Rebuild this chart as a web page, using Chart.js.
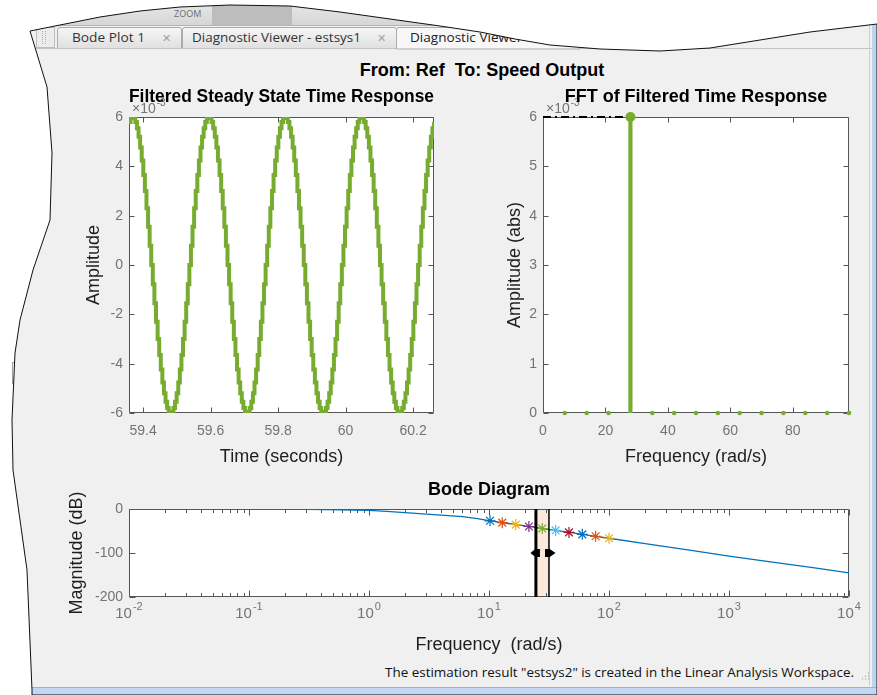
<!DOCTYPE html>
<html>
<head>
<meta charset="utf-8">
<script src="https://cdn.jsdelivr.net/npm/chart.js@4/dist/chart.umd.min.js"></script>
<style>
html,body{margin:0;padding:0;width:877px;height:695px;overflow:hidden;background:#fff;}
#bg{position:absolute;left:0;top:0;}
canvas.cv{position:absolute;}
#suptitle{position:absolute;left:282px;width:400px;top:60px;line-height:22px;text-align:center;white-space:pre;
  font:bold 18px "Liberation Sans",Arial,Helvetica,sans-serif;color:#000;}
</style>
</head>
<body>
<svg id="bg" width="877" height="695" xmlns="http://www.w3.org/2000/svg"></svg>
<div id="suptitle">From: Ref  To: Speed Output</div>
<canvas id="c1" class="cv" width="410" height="400" style="left:40px;top:80px"></canvas>
<canvas id="c2" class="cv" width="405" height="400" style="left:460px;top:80px"></canvas>
<canvas id="c3" class="cv" width="825" height="193" style="left:40px;top:472px"></canvas>
<script>
// ---------------- DATA ----------------
// Filtered steady state time response (amplitude in units of 1e-3)
const timeSec = [
59.3580,59.3627,59.3674,59.3721,59.3768,59.3815,59.3863,59.3910,59.3957,59.4004,59.4051,59.4098,
59.4145,59.4192,59.4239,59.4286,59.4333,59.4380,59.4428,59.4475,59.4522,59.4569,59.4616,59.4663,
59.4710,59.4757,59.4804,59.4851,59.4898,59.4945,59.4993,59.5040,59.5087,59.5134,59.5181,59.5228,
59.5275,59.5322,59.5369,59.5416,59.5463,59.5510,59.5558,59.5605,59.5652,59.5699,59.5746,59.5793,
59.5840,59.5887,59.5934,59.5981,59.6028,59.6075,59.6123,59.6170,59.6217,59.6264,59.6311,59.6358,
59.6405,59.6452,59.6499,59.6546,59.6593,59.6640,59.6688,59.6735,59.6782,59.6829,59.6876,59.6923,
59.6970,59.7017,59.7064,59.7111,59.7158,59.7205,59.7253,59.7300,59.7347,59.7394,59.7441,59.7488,
59.7535,59.7582,59.7629,59.7676,59.7723,59.7770,59.7818,59.7865,59.7912,59.7959,59.8006,59.8053,
59.8100,59.8147,59.8194,59.8241,59.8288,59.8335,59.8383,59.8430,59.8477,59.8524,59.8571,59.8618,
59.8665,59.8712,59.8759,59.8806,59.8853,59.8900,59.8948,59.8995,59.9042,59.9089,59.9136,59.9183,
59.9230,59.9277,59.9324,59.9371,59.9418,59.9465,59.9513,59.9560,59.9607,59.9654,59.9701,59.9748,
59.9795,59.9842,59.9889,59.9936,59.9983,60.0030,60.0078,60.0125,60.0172,60.0219,60.0266,60.0313,
60.0360,60.0407,60.0454,60.0501,60.0548,60.0595,60.0643,60.0690,60.0737,60.0784,60.0831,60.0878,
60.0925,60.0972,60.1019,60.1066,60.1113,60.1160,60.1208,60.1255,60.1302,60.1349,60.1396,60.1443,
60.1490,60.1537,60.1584,60.1631,60.1678,60.1725,60.1773,60.1820,60.1867,60.1914,60.1961,60.2008,
60.2055,60.2102,60.2149,60.2196,60.2243,60.2290,60.2338,60.2385,60.2432,60.2479,60.2526,60.2573,
60.2620];
const timeAmp = [
5.80,5.95,6.00,5.95,5.80,5.54,5.20,4.76,4.24,3.65,3.00,2.30,1.55,0.78,0.00,-0.78,-1.55,-2.30,-3.00,-3.65,-4.24,-4.76,-5.20,-5.54,
-5.80,-5.95,-6.00,-5.95,-5.80,-5.54,-5.20,-4.76,-4.24,-3.65,-3.00,-2.30,-1.55,-0.78,0.00,0.78,1.55,2.30,3.00,3.65,4.24,4.76,5.20,5.54,
5.80,5.95,6.00,5.95,5.80,5.54,5.20,4.76,4.24,3.65,3.00,2.30,1.55,0.78,0.00,-0.78,-1.55,-2.30,-3.00,-3.65,-4.24,-4.76,-5.20,-5.54,
-5.80,-5.95,-6.00,-5.95,-5.80,-5.54,-5.20,-4.76,-4.24,-3.65,-3.00,-2.30,-1.55,-0.78,0.00,0.78,1.55,2.30,3.00,3.65,4.24,4.76,5.20,5.54,
5.80,5.95,6.00,5.95,5.80,5.54,5.20,4.76,4.24,3.65,3.00,2.30,1.55,0.78,0.00,-0.78,-1.55,-2.30,-3.00,-3.65,-4.24,-4.76,-5.20,-5.54,
-5.80,-5.95,-6.00,-5.95,-5.80,-5.54,-5.20,-4.76,-4.24,-3.65,-3.00,-2.30,-1.55,-0.78,0.00,0.78,1.55,2.30,3.00,3.65,4.24,4.76,5.20,5.54,
5.80,5.95,6.00,5.95,5.80,5.54,5.20,4.76,4.24,3.65,3.00,2.30,1.55,0.78,0.00,-0.78,-1.55,-2.30,-3.00,-3.65,-4.24,-4.76,-5.20,-5.54,
-5.80,-5.95,-6.00,-5.95,-5.80,-5.54,-5.20,-4.76,-4.24,-3.65,-3.00,-2.30,-1.55,-0.78,0.00,0.78,1.55,2.30,3.00,3.65,4.24,4.76,5.20,5.54,
5.80];
const timeXTicks = [59.4, 59.6, 59.8, 60, 60.2];
const timeXTickLabels = ['59.4', '59.6', '59.8', '60', '60.2'];
const ampTicks = [-6, -4, -2, 0, 2, 4, 6];
const ampTickLabels = ['-6', '-4', '-2', '0', '2', '4', '6'];

// FFT of filtered time response (units of 1e-3)
const fftFreq = [7, 14, 21, 28, 35, 42, 49, 56, 63, 70, 77, 84, 91, 98];
const fftAmp  = [0, 0, 0, 6, 0, 0, 0, 0, 0, 0, 0, 0, 0, 0];
const fftXTicks = [0, 20, 40, 60, 80];
const fftXTickLabels = ['0', '20', '40', '60', '80'];
const fftYTicks = [0, 1, 2, 3, 4, 5, 6];
const fftYTickLabels = ['0', '1', '2', '3', '4', '5', '6'];

// Bode diagram magnitude
const bodeFreq = [0.01, 0.04, 0.1, 0.3, 0.6, 1, 1.4, 2, 3, 4, 6, 8, 10, 15, 20, 30, 50, 70, 100, 200, 500, 1000, 2000, 5000, 10000];
const bodeMag  = [0, -0.3, -0.6, -1, -1.8, -3, -5.5, -8.4, -11.5, -13.8, -17.5, -22, -26.5, -33.5, -38.5, -45.5, -54.5, -60.5, -66.5, -78.5, -94.5, -107, -118.5, -133, -145];
const markerFreq = [10.2, 12.9, 16.7, 21.5, 27.8, 35.9, 46.4, 59.9, 77.4, 100];
const markerMag  = [-26.8, -31, -35.5, -39.8, -44.3, -48.7, -53.2, -57.6, -62, -66.5];
const markerColors = ['#0072BD', '#D95319', '#EDB120', '#7E2F8E', '#77AC30', '#4DBEEE', '#A2142F', '#0072BD', '#D95319', '#EDB120'];
const bandFreq = [24.6, 31.6];
const bandMarkerMag = -100;
const bodeXTicks = [0.01, 0.1, 1, 10, 100, 1000, 10000];
const bodeXTickBase = '10';
const bodeXTickExps = ['-2', '-1', '0', '1', '2', '3', '4'];
const bodeYTicks = [-200, -100, 0];
const bodeYTickLabels = ['-200', '-100', '0'];

// ---------------- STYLE ----------------
const FONT = '"Liberation Sans", Arial, Helvetica, sans-serif';
const TICK_COLOR = '#737373';
const AXIS_COLOR = '#555555';
const LABEL_COLOR = '#1e1e1e';
const GREEN = '#77AC30';
Chart.defaults.font.family = FONT;
Chart.defaults.color = TICK_COLOR;

// ---------------- BACKGROUND (window chrome) ----------------
(function () {
  const d = 'M30,31 L45,28 L70,23 L100,17 L140,11 L180,7 L230,5 L290,6 L340,12 L390,19 L440,26 L480,32 L515,39 L550,45 L600,49 L660,51 L710,48 L760,40 L810,32 L877,24 L877,695 L32,695 L32,690 L27,570 L20,520 L13,470 L12,420 L15,353 L20,320 L33,270 L50,220 L52,153 L47,87 Z';
  const uiFont = 'font-family="Open Sans, Noto Sans, sans-serif"';
  const svg = document.getElementById('bg');
  svg.innerHTML = `
  <defs>
    <clipPath id="cp"><path d="${d}"/></clipPath>
    <linearGradient id="tabg" x1="0" y1="0" x2="0" y2="1"><stop offset="0" stop-color="#f6f6f6"/><stop offset="1" stop-color="#e0e0e0"/></linearGradient>
    <linearGradient id="tbg" x1="0" y1="0" x2="0" y2="1"><stop offset="0" stop-color="#e9e9e9"/><stop offset="1" stop-color="#d6d6d6"/></linearGradient>
  </defs>
  <rect x="12.5" y="362.5" width="16" height="21" fill="#f4f4f4" stroke="#a0a0a0"/>
  <path d="M28.5 383 V500" stroke="#a0a0a0" fill="none"/>
  <g clip-path="url(#cp)">
    <rect x="0" y="0" width="877" height="695" fill="#f0f0f0"/>
    <rect x="0" y="0" width="440" height="25" fill="url(#tbg)"/>
    <rect x="212" y="0" width="80" height="25" fill="#bdbdbd"/>
    <text x="174" y="17" font-size="9" fill="#6a6a6a" ${uiFont}>ZOOM</text>
    <line x1="0" y1="25.5" x2="440" y2="25.5" stroke="#b5b5b5"/>
    <rect x="36.5" y="27.5" width="18" height="20" fill="#ececec" stroke="#bdbdbd"/>
    <path d="M42.5 31 V45 M45.5 31 V45" stroke="#b0b0b0" stroke-dasharray="1,1"/>
    <path d="M57.5,48 V30 Q57.5,27.5 60,27.5 H179 Q181.5,27.5 181.5,30 V48" fill="url(#tabg)" stroke="#ababab"/>
    <text x="72" y="42" font-size="12.5" fill="#333" textLength="73" lengthAdjust="spacingAndGlyphs" ${uiFont}>Bode Plot 1</text>
    <text x="162" y="42" font-size="11" fill="#a0a0a0" ${uiFont}>\u2715</text>
    <path d="M182.5,48 V30 Q182.5,27.5 185,27.5 H394 Q396.5,27.5 396.5,30 V48" fill="url(#tabg)" stroke="#ababab"/>
    <text x="192" y="42" font-size="12.5" fill="#333" textLength="169" lengthAdjust="spacingAndGlyphs" ${uiFont}>Diagnostic Viewer - estsys1</text>
    <text x="377" y="42" font-size="11" fill="#a0a0a0" ${uiFont}>\u2715</text>
    <line x1="30" y1="48.5" x2="877" y2="48.5" stroke="#c4c4c4"/>
    <path d="M396.5,49 V30 Q396.5,27.5 399,27.5 H580 V49 Z" fill="#f7f7f7" stroke="#ababab"/>
    <text x="410" y="42" font-size="12.5" fill="#222" textLength="170" lengthAdjust="spacingAndGlyphs" ${uiFont}>Diagnostic Viewer - estsys2</text>
    <rect x="872" y="0" width="5" height="695" fill="#bcd4f0"/>
    <line x1="869.5" y1="0" x2="869.5" y2="686" stroke="#cfcfcf"/>
    <rect x="0" y="687" width="877" height="8" fill="#c2d7f1"/>
    <line x1="0" y1="687.5" x2="877" y2="687.5" stroke="#8fb3e0"/>
    <text x="385" y="677" font-size="12.5" fill="#111" textLength="469" lengthAdjust="spacingAndGlyphs" ${uiFont}>The estimation result "estsys2" is created in the Linear Analysis Workspace.</text>
    <path d="M862 679 h1 M865 679 h1 M868 679 h1 M865 676 h1 M868 676 h1 M868 673 h1" stroke="#999"/>
  </g>
  <path d="${d}" fill="none" stroke="#111" stroke-width="1"/>`;
})();

// ---------------- PLUGINS ----------------
function drawPower(ctx, base, exp, cx, cy, baseSize, expSize) {
  ctx.font = baseSize + 'px ' + FONT;
  const wb = ctx.measureText(base).width;
  ctx.font = expSize + 'px ' + FONT;
  const we = ctx.measureText(exp).width;
  const x0 = cx - (wb + we + 1) / 2;
  ctx.textAlign = 'left';
  ctx.textBaseline = 'middle';
  ctx.font = baseSize + 'px ' + FONT;
  ctx.fillText(base, x0, cy);
  ctx.font = expSize + 'px ' + FONT;
  ctx.fillText(exp, x0 + wb + 1, cy - 7);
}

const matlabAxes = {
  id: 'matlabAxes',
  beforeDraw(chart, args, o) {
    const {ctx, chartArea: a} = chart;
    ctx.save();
    ctx.fillStyle = '#ffffff';
    ctx.fillRect(a.left, a.top, a.right - a.left, a.bottom - a.top);
    if (o.exponent) {
      ctx.fillStyle = TICK_COLOR;
      ctx.textBaseline = 'alphabetic';
      ctx.textAlign = 'left';
      ctx.font = '14px ' + FONT;
      ctx.fillText('\u00D710', a.left + 3, a.top - 4);
      const w = ctx.measureText('\u00D710').width;
      ctx.font = '10px ' + FONT;
      ctx.fillText(o.exponent, a.left + 4 + w, a.top - 11);
    }
    ctx.restore();
  },
  beforeDatasetsDraw(chart, args, o) {
    const {ctx, chartArea: a, scales} = chart;
    ctx.save();
    if (o.band) {
      const x0 = scales.x.getPixelForValue(o.band[0]);
      const x1 = scales.x.getPixelForValue(o.band[1]);
      ctx.fillStyle = '#fbeadb';
      ctx.fillRect(x0, a.top, x1 - x0, a.bottom - a.top);
    }
    const L = Math.round(a.left) + 0.5, R = Math.round(a.right) - 0.5;
    const T = Math.round(a.top) + 0.5, B = Math.round(a.bottom) - 0.5;
    const tl = o.tickLen || 5, tm = o.minorLen || 3;
    ctx.strokeStyle = AXIS_COLOR;
    ctx.lineWidth = 1;
    ctx.beginPath();
    ctx.rect(L, T, R - L, B - T);
    scales.x.ticks.forEach(t => {
      const px = Math.round(scales.x.getPixelForValue(t.value)) + 0.5;
      ctx.moveTo(px, B); ctx.lineTo(px, B - tl);
      ctx.moveTo(px, T); ctx.lineTo(px, T + tl);
    });
    (o.minorX || []).forEach(v => {
      const px = Math.round(scales.x.getPixelForValue(v)) + 0.5;
      ctx.moveTo(px, B); ctx.lineTo(px, B - tm);
      ctx.moveTo(px, T); ctx.lineTo(px, T + tm);
    });
    scales.y.ticks.forEach(t => {
      const py = Math.round(scales.y.getPixelForValue(t.value)) + 0.5;
      ctx.moveTo(L, py); ctx.lineTo(L + tl, py);
      ctx.moveTo(R, py); ctx.lineTo(R - tl, py);
    });
    ctx.stroke();
    ctx.restore();
  },
  afterDraw(chart, args, o) {
    if (!o.powerLabels) return;
    const {ctx, chartArea: a, scales} = chart;
    ctx.save();
    ctx.fillStyle = TICK_COLOR;
    scales.x.ticks.forEach((t, i) => {
      drawPower(ctx, o.powerLabels.base, o.powerLabels.exps[i], scales.x.getPixelForValue(t.value), a.bottom + 17, 15, 11);
    });
    ctx.restore();
  }
};
Chart.register(matlabAxes);

function fixedTicks(values) {
  return scale => { scale.ticks = values.map(v => ({value: v})); };
}
const noGrid = {display: false, drawTicks: false};
const titleFont = {size: 18, weight: 'bold', family: FONT};
const labelFont = {size: 18, family: FONT};
const tickFont = {size: 14, family: FONT};
const common = {responsive: false, animation: false, events: [], devicePixelRatio: 1};

// ---------------- CHART 1: time response ----------------
new Chart(document.getElementById('c1'), {
  type: 'line',
  data: {datasets: [{
    data: timeSec.map((t, i) => ({x: t, y: timeAmp[i]})),
    stepped: true, borderColor: GREEN, borderWidth: 4, pointRadius: 0, fill: false
  }]},
  options: Object.assign({}, common, {
    layout: {padding: {left: 0, right: 16, top: 0, bottom: 0}},
    plugins: {
      legend: {display: false}, tooltip: {enabled: false},
      title: {display: true, fullSize: false, text: 'Filtered Steady State Time Response', color: '#000', font: titleFont, padding: {top: 6, bottom: 9.4}},
      matlabAxes: {exponent: '-3', tickLen: 5}
    },
    scales: {
      x: {
        type: 'linear', offset: false, min: timeSec[0], max: timeSec[timeSec.length - 1],
        grid: noGrid, border: {display: false},
        afterBuildTicks: fixedTicks(timeXTicks),
        ticks: {autoSkip: false, maxRotation: 0, padding: 10, font: tickFont, color: TICK_COLOR, callback: (v, i) => timeXTickLabels[i]},
        title: {display: true, text: 'Time (seconds)', color: LABEL_COLOR, font: labelFont, padding: {top: 0, bottom: 12.2}},
        afterFit: s => { s.height = 67; }
      },
      y: {
        type: 'linear', min: -6, max: 6,
        grid: noGrid, border: {display: false},
        afterBuildTicks: fixedTicks(ampTicks),
        ticks: {autoSkip: false, padding: 6, font: tickFont, color: TICK_COLOR, callback: (v, i) => ampTickLabels[i]},
        title: {display: true, text: 'Amplitude', color: LABEL_COLOR, font: labelFont, padding: {top: 43.2, bottom: 0}},
        afterFit: s => { s.width = 89; }
      }
    }
  })
});

// ---------------- CHART 2: FFT ----------------
const peakIdx = fftAmp.indexOf(Math.max(...fftAmp));
new Chart(document.getElementById('c2'), {
  type: 'line',
  data: {datasets: [
    {type: 'line', data: [{x: 0, y: fftAmp[peakIdx]}, {x: fftFreq[peakIdx], y: fftAmp[peakIdx]}],
     borderColor: '#000000', borderWidth: 2, borderDash: [8, 4, 2, 4], pointRadius: 0, clip: false, order: 0},
    {type: 'bar', data: fftFreq.map((f, i) => ({x: f, y: fftAmp[i]})),
     backgroundColor: GREEN, borderWidth: 0, barThickness: 3.5, order: 2},
    {type: 'line', data: fftFreq.map((f, i) => ({x: f, y: fftAmp[i]})), showLine: false,
     pointRadius: c => (c.raw && c.raw.y > 0 ? 5 : 2.3), pointBackgroundColor: GREEN, pointBorderWidth: 0,
     clip: false, order: -1}
  ]},
  options: Object.assign({}, common, {
    layout: {padding: {left: 0, right: 16, top: 0, bottom: 0}},
    plugins: {
      legend: {display: false}, tooltip: {enabled: false},
      title: {display: true, fullSize: false, text: 'FFT of Filtered Time Response', color: '#000', font: titleFont, padding: {top: 6, bottom: 9.4}},
      matlabAxes: {exponent: '-3', tickLen: 5}
    },
    scales: {
      x: {
        type: 'linear', offset: false, min: 0, max: fftFreq[fftFreq.length - 1],
        grid: noGrid, border: {display: false},
        afterBuildTicks: fixedTicks(fftXTicks),
        ticks: {autoSkip: false, maxRotation: 0, padding: 10, font: tickFont, color: TICK_COLOR, callback: (v, i) => fftXTickLabels[i]},
        title: {display: true, text: 'Frequency (rad/s)', color: LABEL_COLOR, font: labelFont, padding: {top: 0, bottom: 12.2}},
        afterFit: s => { s.height = 67; }
      },
      y: {
        type: 'linear', min: 0, max: 6, beginAtZero: true,
        grid: noGrid, border: {display: false},
        afterBuildTicks: fixedTicks(fftYTicks),
        ticks: {autoSkip: false, padding: 6, font: tickFont, color: TICK_COLOR, callback: (v, i) => fftYTickLabels[i]},
        title: {display: true, text: 'Amplitude (abs)', color: LABEL_COLOR, font: labelFont, padding: {top: 44.2, bottom: 0}},
        afterFit: s => { s.width = 83; }
      }
    }
  })
});

// ---------------- CHART 3: Bode ----------------
function arrowMarker(dir) {
  const c = document.createElement('canvas');
  c.width = 26; c.height = 12;
  const g = c.getContext('2d');
  g.fillStyle = '#000';
  g.beginPath();
  if (dir < 0) {
    g.moveTo(7.5, 6); g.lineTo(13, 1.5); g.lineTo(13, 10.5); g.closePath(); g.fill();
    g.fillRect(13, 2, 4, 8);
  } else {
    g.moveTo(19.5, 6); g.lineTo(13, 1.5); g.lineTo(13, 10.5); g.closePath(); g.fill();
    g.fillRect(9, 2, 4, 8);
  }
  return c;
}
const bodeMinor = [];
bodeXTicks.slice(0, -1).forEach(d => { for (let m = 2; m <= 9; m++) bodeMinor.push(d * m); });

new Chart(document.getElementById('c3'), {
  type: 'line',
  data: {datasets: [
    {data: bodeFreq.map((f, i) => ({x: f, y: bodeMag[i]})), borderColor: '#0072BD', borderWidth: 1.3, pointRadius: 0, order: 3},
    {data: markerFreq.map((f, i) => ({x: f, y: markerMag[i]})), showLine: false, pointStyle: 'star', pointRadius: 5.5,
     pointBorderColor: markerColors, pointBackgroundColor: markerColors, pointBorderWidth: 1.2, clip: false, order: 2},
    {data: [{x: bandFreq[0], y: -200}, {x: bandFreq[0], y: 0}], borderColor: '#000', borderWidth: 3, pointRadius: 0, order: 1},
    {data: [{x: bandFreq[1], y: -200}, {x: bandFreq[1], y: 0}], borderColor: '#000', borderWidth: 1.5, pointRadius: 0, order: 1},
    {data: [{x: bandFreq[0], y: bandMarkerMag}], showLine: false, pointStyle: arrowMarker(-1), pointRadius: 6, clip: false, order: 0},
    {data: [{x: bandFreq[1], y: bandMarkerMag}], showLine: false, pointStyle: arrowMarker(1), pointRadius: 6, clip: false, order: 0}
  ]},
  options: Object.assign({}, common, {
    layout: {padding: {left: 0, right: 16, top: 0, bottom: 0}},
    plugins: {
      legend: {display: false}, tooltip: {enabled: false},
      title: {display: true, fullSize: false, text: 'Bode Diagram', color: '#000', font: titleFont, padding: {top: 7.2, bottom: 8.2}},
      matlabAxes: {tickLen: 6, minorLen: 3.5, minorX: bodeMinor, band: bandFreq, powerLabels: {base: bodeXTickBase, exps: bodeXTickExps}}
    },
    scales: {
      x: {
        type: 'logarithmic', min: bodeXTicks[0], max: bodeXTicks[bodeXTicks.length - 1],
        grid: noGrid, border: {display: false},
        afterBuildTicks: fixedTicks(bodeXTicks),
        ticks: {display: false, autoSkip: false},
        title: {display: true, text: 'Frequency  (rad/s)', color: LABEL_COLOR, font: labelFont, padding: {top: 0, bottom: 9.2}},
        afterFit: s => { s.height = 68; }
      },
      y: {
        type: 'linear', min: -200, max: 0,
        grid: noGrid, border: {display: false},
        afterBuildTicks: fixedTicks(bodeYTicks),
        ticks: {autoSkip: false, padding: 6, font: tickFont, color: TICK_COLOR, callback: (v, i) => bodeYTickLabels[i]},
        title: {display: true, text: 'Magnitude (dB)', color: LABEL_COLOR, font: labelFont, padding: {top: 26.2, bottom: 0}},
        afterFit: s => { s.width = 89; }
      }
    }
  })
});
</script>
</body>
</html>
